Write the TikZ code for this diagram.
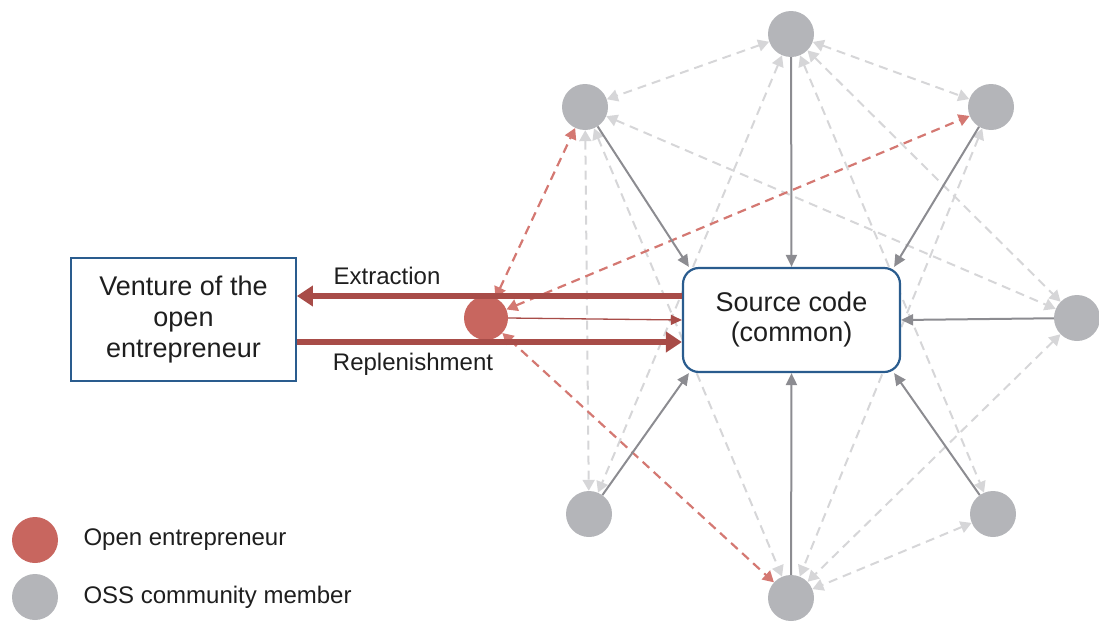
\documentclass[tikz,border=0pt]{standalone}
\usepackage{fontspec}
\setmainfont{Liberation Sans}
\usetikzlibrary{arrows.meta}

\definecolor{memgray}{RGB}{180,181,185}
\definecolor{oered}{RGB}{200,102,95}
\definecolor{flowred}{RGB}{168,76,72}
\definecolor{linkred}{RGB}{212,120,114}
\definecolor{solidgray}{RGB}{140,140,145}
\definecolor{dashgray}{RGB}{214,214,216}
\definecolor{boxblue}{RGB}{42,92,142}
\definecolor{ink}{RGB}{30,30,30}

\tikzset{
  member/.style={circle, fill=memgray, minimum size=46pt, inner sep=0pt},
  openent/.style={circle, fill=oered, minimum size=44pt, inner sep=0pt},
  peerlink/.style={draw=dashgray, line width=2pt, dash pattern=on 9pt off 6pt,
    {Triangle[width=12pt,length=11pt]}-{Triangle[width=12pt,length=11pt]}},
  oelink/.style={draw=linkred, line width=2.2pt, dash pattern=on 9pt off 6pt,
    {Triangle[width=12pt,length=11pt]}-{Triangle[width=12pt,length=11pt]}},
  contrib/.style={draw=solidgray, line width=2pt, -{Triangle[width=11pt,length=12pt]}},
  flow/.style={draw=flowred, line width=6pt, -{Triangle[width=20pt,length=16pt]}},
  thinflow/.style={draw=flowred, line width=1.3pt, -{Triangle[width=10pt,length=11pt]}},
  label/.style={text=ink, font=\fontsize{24}{28}\selectfont},
}

\begin{document}
\begin{tikzpicture}[x=1pt,y=-1pt]
\useasboundingbox (0,0) rectangle (1099,621);

% community members and the open entrepreneur
\node[member] (t)  at (791,34) {};
\node[member] (tl) at (585,107) {};
\node[member] (tr) at (991,107) {};
\node[member] (r)  at (1077,318) {};
\node[member] (br) at (993,514) {};
\node[member] (b)  at (791,598) {};
\node[member] (bl) at (589,514) {};
\node[openent] (oe) at (486,318) {};

% peer-to-peer links between community members
\draw[peerlink] (t) -- (tl);
\draw[peerlink] (t) -- (tr);
\draw[peerlink] (t) -- (bl);
\draw[peerlink] (t) -- (br);
\draw[peerlink] (t) -- (r);
\draw[peerlink] (tl) -- (r);
\draw[peerlink] (tl) -- (bl);
\draw[peerlink] (tl) -- (b);
\draw[peerlink] (tr) -- (b);
\draw[peerlink] (r) -- (b);
\draw[peerlink] (br) -- (b);

% links of the open entrepreneur
\draw[oelink] (oe) -- (tl);
\draw[oelink] (oe) -- (tr);
\draw[oelink] (oe) -- (b);

% the shared source code
\node[draw=boxblue, line width=2.2pt, fill=white, rounded corners=16pt,
      minimum width=217pt, minimum height=104pt, align=center, text=ink,
      font=\fontsize{27}{30}\selectfont] (src) at (791.5,320) {Source code\\(common)};

% the venture
\node[draw=boxblue, line width=1.8pt, fill=white,
      minimum width=225pt, minimum height=123pt, align=center, text=ink,
      font=\fontsize{27}{31}\selectfont] (venture) at (183.5,319.5) {Venture of the\\open\\entrepreneur};

% contributions to the source code
\draw[contrib] (t) -- (src.north);
\draw[contrib] (tl) -- ([xshift=7pt]src.north west);
\draw[contrib] (tr) -- ([xshift=-7pt]src.north east);
\draw[contrib] (r) -- (src.east);
\draw[contrib] (br) -- ([xshift=-7pt]src.south east);
\draw[contrib] (b) -- (src.south);
\draw[contrib] (bl) -- ([xshift=7pt]src.south west);

% extraction and replenishment
\draw[flow] ([yshift=24pt]src.west) -- ([yshift=23.5pt]venture.east);
\draw[flow] ([yshift=-22.5pt]venture.east) -- ([yshift=-22pt]src.west);
\draw[thinflow] (oe.east) -- (src.west);
\node[label] (extr) at (387,276) {Extraction};
\node[label] (repl) at (413,364) {Replenishment};

% legend
\node[openent, minimum size=46pt] (leg1) at (35,540) {};
\node[member] (leg2) at (35,597) {};
\node[label, anchor=west] (legt1) at (80,540) {Open entrepreneur};
\node[label, anchor=west] (legt2) at (80,597) {OSS community member};
\end{tikzpicture}
\end{document}
